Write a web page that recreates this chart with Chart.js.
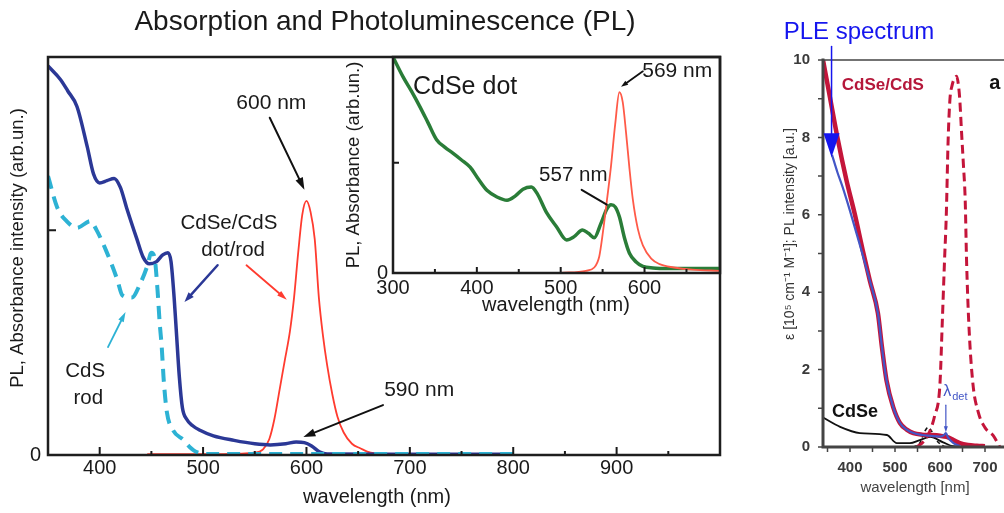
<!DOCTYPE html>
<html><head><meta charset="utf-8">
<script src="https://cdn.jsdelivr.net/npm/chart.js@4"></script>
<style>
html,body{margin:0;padding:0;width:1004px;height:513px;overflow:hidden;background:#fff}
canvas{position:absolute}
#main{left:0;top:0}
#inset{left:340px;top:30px}
#right{left:760px;top:0}
</style></head><body>
<canvas id="main" width="760" height="513"></canvas>
<canvas id="inset" width="400" height="290"></canvas>
<canvas id="right" width="300" height="513"></canvas>
<script>
const F = "'Liberation Sans', Arial, sans-serif";

// ---------- main panel: CdSe/CdS dot/rod and CdS rod ----------
const dotRodAbsWl = [350, 362, 369, 378, 388, 394, 400, 407, 414, 420, 426, 436, 442, 448, 455, 461, 466, 469, 472, 474, 477, 480, 484, 490, 497, 510, 530, 550, 565, 580, 590, 598, 605, 613, 620, 700, 800];
const dotRodAbs   = [1.73, 1.67, 1.62, 1.55, 1.37, 1.25, 1.21, 1.22, 1.23, 1.19, 1.10, 0.96, 0.88, 0.85, 0.86, 0.89, 0.90, 0.86, 0.70, 0.56, 0.35, 0.21, 0.16, 0.13, 0.11, 0.085, 0.065, 0.05, 0.045, 0.05, 0.058, 0.055, 0.04, 0.013, 0.004, 0.003, 0.003];
const rodAbsWl = [350, 359, 368, 378, 391, 397, 407, 417, 422, 431, 439, 446, 450, 453, 456, 458, 460, 462, 465, 471, 481, 487, 494, 510, 800];
const rodAbs   = [1.24, 1.10, 1.04, 1.01, 1.04, 1.00, 0.90, 0.78, 0.71, 0.70, 0.76, 0.84, 0.90, 0.88, 0.73, 0.59, 0.48, 0.33, 0.19, 0.11, 0.067, 0.036, 0.013, 0.004, 0.004];
const dotRodPlWl = [446, 520, 550, 558, 564, 569, 574, 579, 584, 588, 592, 596, 600, 604, 608, 612, 616, 620, 625, 630, 636, 644, 652, 662, 680, 800];
const dotRodPl   = [0.004, 0.004, 0.01, 0.025, 0.07, 0.16, 0.29, 0.42, 0.55, 0.70, 0.90, 1.07, 1.13, 1.08, 0.96, 0.70, 0.53, 0.40, 0.27, 0.17, 0.10, 0.05, 0.03, 0.01, 0.004, 0.004];
const mainXTicks = [400, 500, 600, 700, 800, 900];
const mainXMinor = [450, 550, 650, 750, 850, 950];
const mainYTicks = [0];

// ---------- inset: CdSe dot ----------
const dotAbsWl = [300, 312, 322, 332, 342, 352, 362, 371, 381, 392, 402, 412, 424, 436, 446, 455, 465, 472, 483, 495, 507, 516, 526, 533, 540, 548, 555, 560, 565, 570, 576, 582, 590, 598, 610, 630, 690];
const dotAbs   = [1.96, 1.78, 1.65, 1.51, 1.36, 1.21, 1.14, 1.09, 1.03, 0.96, 0.85, 0.75, 0.69, 0.66, 0.70, 0.76, 0.78, 0.72, 0.55, 0.42, 0.30, 0.33, 0.39, 0.36, 0.32, 0.45, 0.58, 0.62, 0.60, 0.51, 0.32, 0.18, 0.10, 0.06, 0.045, 0.04, 0.04];
const dotPlWl = [500, 530, 540, 546, 550, 555, 560, 565, 570, 574, 578, 582, 586, 592, 598, 608, 618, 635, 657, 690];
const dotPl   = [0.0, 0.02, 0.05, 0.15, 0.35, 0.65, 0.97, 1.35, 1.64, 1.55, 1.27, 0.95, 0.67, 0.40, 0.25, 0.13, 0.08, 0.05, 0.03, 0.02];
const insetXTicks = [300, 400, 500, 600];
const insetXMinor = [350, 450, 550, 650];
const insetYTicks = [0];

// ---------- right panel ----------
const csAbsWl = [340, 356, 372, 392, 411, 428, 444, 462, 471, 481, 496, 511, 526, 541, 560, 578, 600, 615, 630, 644, 662, 682, 700];
const csAbs   = [10.0, 9.0, 8.0, 6.9, 6.0, 5.1, 4.3, 3.46, 2.58, 1.73, 1.03, 0.62, 0.45, 0.36, 0.32, 0.31, 0.29, 0.26, 0.18, 0.1, 0.05, 0.03, 0.02];
const pleWl = [360, 372, 384, 400, 420, 444, 462, 471, 481, 496, 511, 526, 541, 560, 578, 600, 608, 613, 618, 630, 645];
const ple   = [7.55, 7.1, 6.7, 6.1, 5.3, 4.3, 3.46, 2.58, 1.73, 1.03, 0.62, 0.45, 0.36, 0.31, 0.29, 0.27, 0.3, 0.36, 0.24, 0.1, 0.02];
const csPlWl = [548, 560, 573, 588, 600, 605, 610, 614, 618, 622, 627, 632, 637, 641, 644, 648, 652, 656, 659, 664, 673, 685, 700, 718, 733];
const csPl   = [0, 0.1, 0.3, 0.8, 1.65, 3.2, 4.8, 6.0, 7.9, 8.97, 9.35, 9.52, 9.58, 9.35, 8.97, 8.11, 7.3, 6.38, 4.83, 3.2, 1.65, 0.9, 0.5, 0.3, 0];
const cdseAbsWl = [340, 378, 422, 482, 504, 533, 555, 578, 607, 629, 660];
const cdseAbs   = [0.76, 0.52, 0.36, 0.31, 0.10, 0.10, 0.18, 0.26, 0.12, 0.02, 0.0];
const cdsePlWl = [540, 555, 565, 573, 582, 592, 607, 615];
const cdsePl   = [0.0, 0.1, 0.38, 0.5, 0.4, 0.18, 0.03, 0.0];
const rightXTicks = [400, 500, 600, 700];
const rightXMinor = [350, 450, 550, 650, 750];
const rightYTicks = [0, 2, 4, 6, 8, 10];
const rightYMinor = [1, 3, 5, 7, 9];

const pts = (xs, ys) => xs.map((x, i) => ({ x, y: ys[i] }));

const deco = {
  id: 'deco',
  afterDraw(chart, args, o) {
    const ctx = chart.ctx, ca = chart.chartArea;
    const xs = chart.scales.x, ys = chart.scales.y;
    const X = v => xs.getPixelForValue(v), Y = v => ys.getPixelForValue(v);
    ctx.save();
    ctx.setLineDash([]);
    const tk = o.ticks;
    if (tk) {
      ctx.strokeStyle = tk.color; ctx.lineWidth = tk.width; ctx.lineCap = 'butt';
      const d = tk.inward ? -1 : 1;
      ctx.beginPath();
      (tk.xMajor || []).forEach(v => { const p = X(v); ctx.moveTo(p, ca.bottom); ctx.lineTo(p, ca.bottom + d * tk.major); });
      (tk.xMinor || []).forEach(v => { const p = X(v); ctx.moveTo(p, ca.bottom); ctx.lineTo(p, ca.bottom + d * tk.minor); });
      (tk.yMajor || []).forEach(v => { const p = Y(v); ctx.moveTo(ca.left, p); ctx.lineTo(ca.left - d * tk.major, p); });
      (tk.yMinor || []).forEach(v => { const p = Y(v); ctx.moveTo(ca.left, p); ctx.lineTo(ca.left - d * tk.minor, p); });
      ctx.stroke();
    }
    const fr = o.frame;
    if (fr) {
      ctx.strokeStyle = fr.color; ctx.lineWidth = fr.width; ctx.lineCap = 'square';
      ctx.beginPath();
      if (fr.sides.includes('l')) { ctx.moveTo(ca.left, ca.top); ctx.lineTo(ca.left, ca.bottom); }
      if (fr.sides.includes('b')) { ctx.moveTo(ca.left, ca.bottom); ctx.lineTo(ca.right, ca.bottom); }
      if (fr.sides.includes('r')) { ctx.moveTo(ca.right, ca.bottom); ctx.lineTo(ca.right, ca.top); }
      if (fr.sides.includes('t')) { ctx.moveTo(ca.right, ca.top); ctx.lineTo(ca.left, ca.top); }
      ctx.stroke();
      if (fr.topLine) {
        ctx.lineWidth = fr.topLine; ctx.beginPath();
        ctx.moveTo(ca.left, ca.top); ctx.lineTo(ca.right, ca.top); ctx.stroke();
      }
    }
    (o.arrows || []).forEach(a => {
      const x1 = X(a.from[0]), y1 = Y(a.from[1]), x2 = X(a.to[0]), y2 = Y(a.to[1]);
      const ang = Math.atan2(y2 - y1, x2 - x1), c = Math.cos(ang), s = Math.sin(ang);
      const hl = a.head || 0, hw = a.headW || hl * 0.65;
      ctx.strokeStyle = a.color; ctx.fillStyle = a.color; ctx.lineWidth = a.width; ctx.lineCap = 'round';
      ctx.beginPath(); ctx.moveTo(x1, y1); ctx.lineTo(x2 - c * hl * 0.7, y2 - s * hl * 0.7); ctx.stroke();
      if (hl) {
        ctx.beginPath(); ctx.moveTo(x2, y2);
        ctx.lineTo(x2 - hl * c + hw / 2 * s, y2 - hl * s - hw / 2 * c);
        ctx.lineTo(x2 - hl * c - hw / 2 * s, y2 - hl * s + hw / 2 * c);
        ctx.closePath(); ctx.fill();
      }
    });
    (o.texts || []).forEach(t => {
      const x = t.px ? t.x : X(t.x), y = t.px ? t.y : Y(t.y);
      ctx.save(); ctx.translate(x, y); if (t.rot) ctx.rotate(t.rot);
      ctx.font = t.font; ctx.fillStyle = t.color || '#1a1a1a';
      ctx.textAlign = t.align || 'center'; ctx.textBaseline = 'middle';
      ctx.fillText(t.text, 0, 0);
      if (t.sub) {
        const w = ctx.measureText(t.text).width;
        ctx.font = t.subFont; ctx.textAlign = 'left';
        ctx.fillText(t.sub, w + 1, t.subDy);
      }
      ctx.restore();
    });
    ctx.restore();
  }
};

function makeChart(id, datasets, c) {
  return new Chart(document.getElementById(id), {
    type: 'line',
    data: { datasets },
    plugins: [deco],
    options: {
      responsive: false, animation: false, devicePixelRatio: 1,
      layout: { padding: c.padding },
      elements: { point: { radius: 0 }, line: { cubicInterpolationMode: 'monotone', borderCapStyle: 'butt', borderJoinStyle: 'round' } },
      plugins: { legend: { display: false }, tooltip: { enabled: false }, deco: c.deco },
      scales: {
        x: {
          type: 'linear', min: c.xmin, max: c.xmax,
          afterFit: s => { s.height = c.xh; },
          afterBuildTicks: s => { s.ticks = c.xticks.map(v => ({ value: v })); },
          grid: { display: false, drawTicks: false }, border: { display: false },
          ticks: { font: c.tickFont, color: c.tickColor, padding: c.xpad, maxRotation: 0, autoSkip: false, callback: v => String(v) }
        },
        y: {
          type: 'linear', min: c.ymin, max: c.ymax,
          afterFit: s => { s.width = c.yw; },
          afterBuildTicks: s => { s.ticks = c.yticks.map(v => ({ value: v })); },
          grid: { display: false, drawTicks: false }, border: { display: false },
          ticks: { font: c.tickFont, color: c.tickColor, padding: c.ypad, autoSkip: false, callback: v => String(v) }
        }
      }
    }
  });
}

// ---------- main chart ----------
const cBlue = '#2b3896', cCyan = '#2db2d4', cRed = '#ff3b2f';
makeChart('main', [
  { data: pts(rodAbsWl, rodAbs), borderColor: cCyan, borderWidth: 4, borderDash: [13, 8] },
  { data: pts(dotRodAbsWl, dotRodAbs), borderColor: cBlue, borderWidth: 3.5 },
  { data: pts(dotRodPlWl, dotRodPl), borderColor: cRed, borderWidth: 1.8 }
], {
  padding: { top: 57, right: 40, left: 0, bottom: 0 },
  xmin: 350, xmax: 1000, ymin: 0, ymax: 1.77, xh: 58, yw: 48,
  xticks: mainXTicks, yticks: mainYTicks, xpad: 1, ypad: 7,
  tickFont: { family: F, size: 20 }, tickColor: '#1a1a1a',
  deco: {
    ticks: { color: '#1a1a1a', width: 2, inward: true, major: 8, minor: 4, xMajor: mainXTicks, xMinor: mainXMinor, yMajor: [1] },
    frame: { color: '#1e1e1e', width: 2.5, sides: 'lbrt' },
    arrows: [
      { from: [564.5, 1.50], to: [598, 1.18], color: '#111', width: 2, head: 12, headW: 8 },
      { from: [514, 0.844], to: [482, 0.68], color: cBlue, width: 2.5, head: 10, headW: 7 },
      { from: [542, 0.844], to: [581, 0.69], color: cRed, width: 1.8, head: 10, headW: 6 },
      { from: [408, 0.48], to: [425, 0.636], color: cCyan, width: 1.8, head: 10, headW: 6 },
      { from: [674, 0.222], to: [597, 0.08], color: '#111', width: 2, head: 12, headW: 8 }
    ],
    texts: [
      { text: 'Absorption and Photoluminescence (PL)', px: true, x: 385, y: 22, font: `28px ${F}` },
      { text: 'PL, Absorbance intensity (arb.un.)', px: true, x: 18, y: 248, rot: -Math.PI / 2, font: `18.5px ${F}` },
      { text: 'wavelength (nm)', px: true, x: 377, y: 497, font: `20px ${F}` },
      { text: '600 nm', x: 566, y: 1.564, font: `21px ${F}` },
      { text: 'CdSe/CdS', x: 525, y: 1.03, font: `20.5px ${F}` },
      { text: 'dot/rod', x: 529, y: 0.91, font: `20.5px ${F}` },
      { text: 'CdS', x: 386, y: 0.37, font: `20.5px ${F}` },
      { text: 'rod', x: 389, y: 0.25, font: `20.5px ${F}` },
      { text: '590 nm', x: 709, y: 0.29, font: `21px ${F}` }
    ]
  }
});

// ---------- inset chart ----------
makeChart('inset', [
  { data: pts(dotPlWl, dotPl), borderColor: '#ff5a48', borderWidth: 1.8 },
  { data: pts(dotAbsWl, dotAbs), borderColor: '#2a7d38', borderWidth: 3.5 }
], {
  padding: { top: 27, right: 20, left: 0, bottom: 0 },
  xmin: 300, xmax: 690, ymin: 0, ymax: 1.96, xh: 47, yw: 53,
  xticks: insetXTicks, yticks: insetYTicks, xpad: 3, ypad: 5,
  tickFont: { family: F, size: 20 }, tickColor: '#1a1a1a',
  deco: {
    ticks: { color: '#1a1a1a', width: 2, inward: true, major: 6, minor: 4, xMajor: insetXTicks, xMinor: insetXMinor, yMajor: [1] },
    frame: { color: '#1e1e1e', width: 2.5, sides: 'lbrt' },
    arrows: [
      { from: [598, 1.83], to: [572, 1.69], color: '#111', width: 1.8, head: 7, headW: 5 },
      { from: [525, 0.755], to: [555, 0.62], color: '#111', width: 2 }
    ],
    texts: [
      { text: 'PL, Absorbance (arb.un.)', px: true, x: 14, y: 135, rot: -Math.PI / 2, font: `18.5px ${F}` },
      { text: 'wavelength (nm)', px: true, x: 216, y: 275, font: `20px ${F}` },
      { text: 'CdSe dot', x: 386, y: 1.69, font: `25px ${F}` },
      { text: '569 nm', x: 639, y: 1.83, font: `21px ${F}` },
      { text: '557 nm', x: 515, y: 0.89, font: `20.5px ${F}` }
    ]
  }
});

// ---------- right chart ----------
const rRed = '#c4153a', rBlue = '#4356c6';
makeChart('right', [
  { data: pts(pleWl, ple), borderColor: rBlue, borderWidth: 2.2 },
  { data: pts(csAbsWl, csAbs), borderColor: rRed, borderWidth: 4.5 },
  { data: pts(csPlWl, csPl), borderColor: rRed, borderWidth: 3, borderDash: [9, 5] },
  { data: pts(cdsePlWl, cdsePl), borderColor: '#111', borderWidth: 1.6, borderDash: [4, 3] },
  { data: pts(cdseAbsWl, cdseAbs), borderColor: '#111', borderWidth: 1.8 }
], {
  padding: { top: 60, right: 12, left: 0, bottom: 0 },
  xmin: 340, xmax: 840, ymin: 0, ymax: 10, xh: 66, yw: 63,
  xticks: rightXTicks, yticks: rightYTicks, xpad: 12, ypad: 13,
  tickFont: { family: F, size: 15, weight: 'bold' }, tickColor: '#3a3a3a',
  deco: {
    ticks: { color: '#444', width: 1.5, inward: false, major: 5, minor: 5, xMajor: rightXTicks, xMinor: rightXMinor, yMajor: rightYTicks, yMinor: rightYMinor },
    frame: { color: '#444', width: 3, sides: 'lb', topLine: 1.3 },
    arrows: [
      { from: [359, 10.35], to: [359, 7.49], color: '#1515ee', width: 1.5, head: 24, headW: 16 },
      { from: [613, 1.08], to: [613, 0.38], color: rBlue, width: 1.2, head: 6, headW: 4 }
    ],
    texts: [
      { text: 'PLE spectrum', px: true, x: 99, y: 32, font: `24px ${F}`, color: '#1515ee' },
      { text: 'ε [10⁵ cm⁻¹ M⁻¹]; PL intensity [a.u.]', px: true, x: 30, y: 234, rot: -Math.PI / 2, font: `14px ${F}`, color: '#333' },
      { text: 'wavelength [nm]', px: true, x: 155, y: 488, font: `15px ${F}`, color: '#444' },
      { text: 'CdSe/CdS', x: 473, y: 9.35, font: `bold 17px ${F}`, color: '#b5173a' },
      { text: 'a', x: 722, y: 9.4, font: `bold 20px ${F}`, color: '#111' },
      { text: 'CdSe', x: 411, y: 0.9, font: `bold 18px ${F}`, color: '#111' },
      { text: 'λ', x: 607, y: 1.42, align: 'left', font: `16px ${F}`, color: rBlue, sub: 'det', subFont: `11px ${F}`, subDy: 5 }
    ]
  }
});
</script>
</body></html>
